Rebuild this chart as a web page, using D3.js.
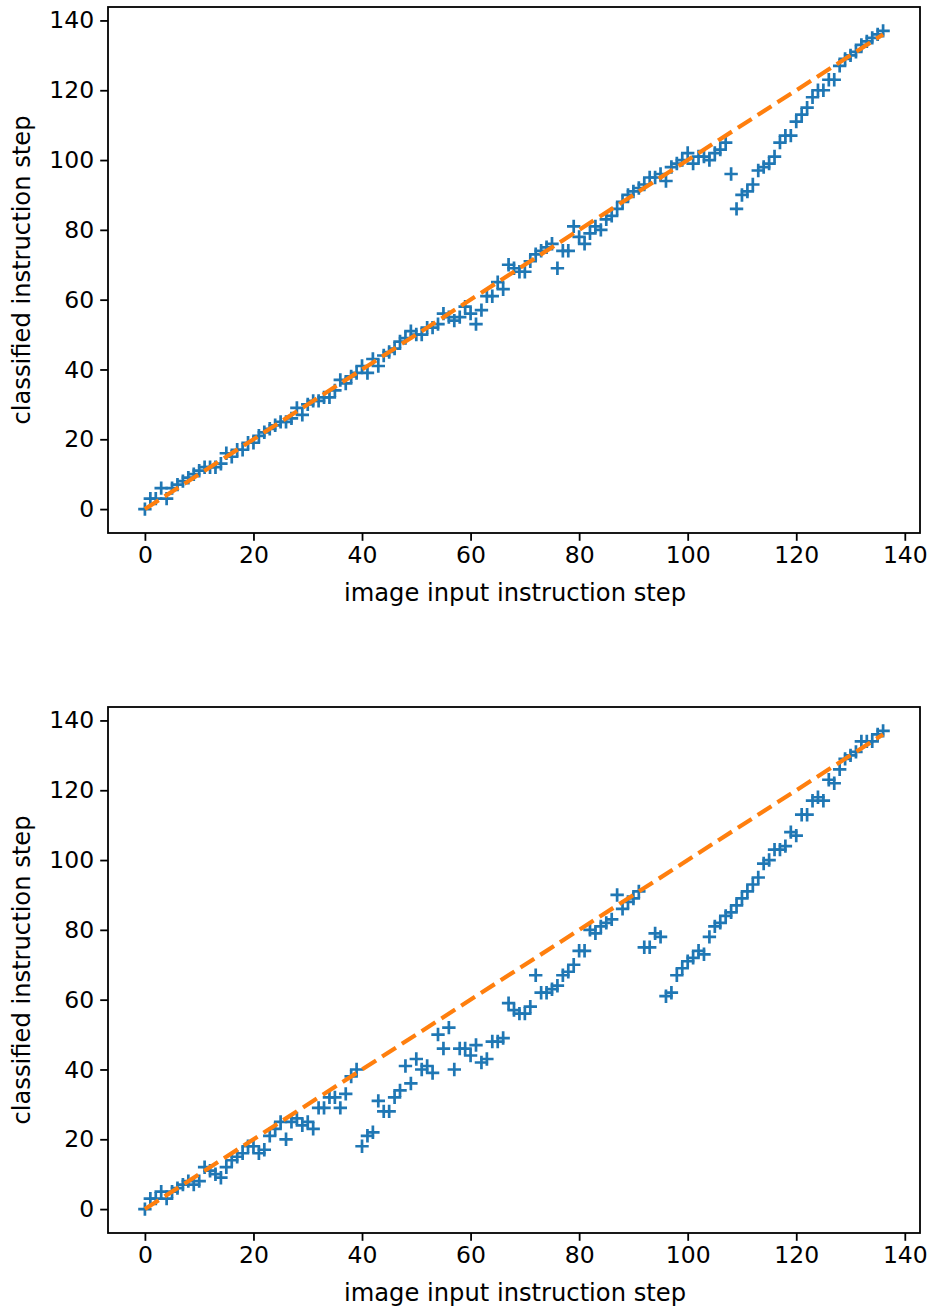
<!DOCTYPE html>
<html>
<head>
<meta charset="utf-8">
<script src="https://cdn.jsdelivr.net/npm/d3@7"></script>
<style>
  body { margin: 0; background: #fff; }
  text { font-family: "DejaVu Sans", sans-serif; fill: #000; }
</style>
</head>
<body>
<script>
// figure size
let width = 931,
  height = 1311;

// classified step for each image input step (top panel)
const topY = [
  0, 3, 3, 6, 3, 6, 7, 8, 9, 10,
  11, 12, 12, 12, 13, 16, 15, 17, 17, 19,
  19, 21, 22, 23, 24, 25, 25, 26, 29, 27,
  30, 31, 31, 32, 32, 34, 37, 36, 38, 39,
  41, 39, 43, 41, 44, 45, 46, 48, 49, 51,
  50, 50, 52, 52, 53, 56, 55, 54, 55, 58,
  56, 53, 57, 61, 61, 65, 63, 70, 69, 68,
  68, 71, 73, 74, 75, 76, 69, 74, 74, 81,
  78, 76, 79, 81, 80, 83, 84, 86, 88, 90,
  91, 92, 93, 95, 95, 96, 94, 98, 99, 100,
  102, 99, 101, 101, 100, 102, 103, 105, 96, 86,
  90, 91, 93, 97, 98, 99, 101, 105, 107, 107,
  111, 113, 115, 118, 120, 120, 123, 123, 127, 129,
  130, 131, 133, 134, 135, 136, 137
];

// classified step for each image input step (bottom panel)
const bottomY = [
  0, 3, 3, 5, 3, 5, 6, 7, 8, 7,
  8, 12, 11, 10, 9, 12, 14, 15, 16, 18,
  18, 16, 17, 21, 23, 25, 20, 25, 26, 24,
  25, 23, 29, 29, 32, 32, 29, 33, 38, 40,
  18, 21, 22, 31, 28, 28, 32, 34, 41, 36,
  43, 40, 41, 39, 50, 46, 52, 40, 46, 46,
  44, 47, 42, 43, 48, 48, 49, 59, 57, 56,
  56, 58, 67, 62, 62, 63, 64, 67, 68, 70,
  74, 74, 80, 79, 81, 82, 83, 90, 86, 88,
  89, 91, 75, 75, 79, 78, 61, 62, 67, 69,
  71, 72, 74, 73, 78, 81, 82, 84, 85, 87,
  89, 91, 93, 95, 99, 100, 103, 103, 104, 108,
  107, 113, 113, 117, 118, 117, 123, 122, 126, 129,
  130, 131, 134, 134, 134, 136, 137
];

// ideal y = x reference line
const idealX = [0, 136];
const idealY = [0, 136];

const tickValues = [0, 20, 40, 60, 80, 100, 120, 140];
const xLabel = "image input instruction step";
const yLabel = "classified instruction step";

const svg = d3.select("body")
  .append("svg")
  .attr("width", width)
  .attr("height", height);

drawPanel(svg, topY, 7);
drawPanel(svg, bottomY, 707);

function drawPanel(svg, values, top) {
  let left = 108, right = 920, h = 526;
  let steps = d3.range(values.length);

  // matplotlib style 5% margins
  let xs = d3.extent(steps), ys = d3.extent(values);
  let mx = (xs[1] - xs[0]) * 0.05, my = (ys[1] - ys[0]) * 0.05;

  let x = d3.scaleLinear().domain([xs[0] - mx, xs[1] + mx]).range([left, right]);
  let y = d3.scaleLinear().domain([ys[0] - my, ys[1] + my]).range([top + h, top]);

  let g = svg.append("g");

  // scatter markers
  g.append("g")
    .selectAll("path")
    .data(steps)
    .join("path")
    .attr("d", i => {
      let cx = x(i), cy = y(values[i]), r = 6.7;
      return `M${cx - r},${cy}H${cx + r}M${cx},${cy - r}V${cy + r}`;
    })
    .attr("stroke", "#1f77b4")
    .attr("stroke-width", 2.7)
    .attr("fill", "none");

  // ideal line
  g.append("path")
    .datum(idealX.map((d, i) => [d, idealY[i]]))
    .attr("d", d3.line().x(d => x(d[0])).y(d => y(d[1])))
    .attr("stroke", "#ff7f0e")
    .attr("stroke-width", 4.2)
    .attr("stroke-dasharray", "16.4,7.1")
    .attr("fill", "none");

  // axes
  let xAxis = g.append("g")
    .attr("transform", `translate(0,${top + h})`)
    .call(d3.axisBottom(x).tickValues(tickValues).tickSize(7.8).tickPadding(6));
  let yAxis = g.append("g")
    .attr("transform", `translate(${left},0)`)
    .call(d3.axisLeft(y).tickValues(tickValues).tickSize(7.8).tickPadding(6));

  [xAxis, yAxis].forEach(a => {
    a.select(".domain").remove();
    a.selectAll("line").attr("stroke", "#000").attr("stroke-width", 1.8);
    a.selectAll("text")
      .attr("font-family", "DejaVu Sans")
      .attr("font-size", 23.5)
      .attr("fill", "#000");
  });

  // frame
  g.append("rect")
    .attr("x", left)
    .attr("y", top)
    .attr("width", right - left)
    .attr("height", h)
    .attr("fill", "none")
    .attr("stroke", "#000")
    .attr("stroke-width", 1.8);

  // axis labels
  g.append("text")
    .attr("x", (left + right) / 2 + 1)
    .attr("y", top + h + 68)
    .attr("text-anchor", "middle")
    .attr("font-size", 24.2)
    .text(xLabel);

  g.append("text")
    .attr("transform", `translate(30,${top + h / 2}) rotate(-90)`)
    .attr("text-anchor", "middle")
    .attr("font-size", 24.2)
    .text(yLabel);
}
</script>
</body>
</html>
